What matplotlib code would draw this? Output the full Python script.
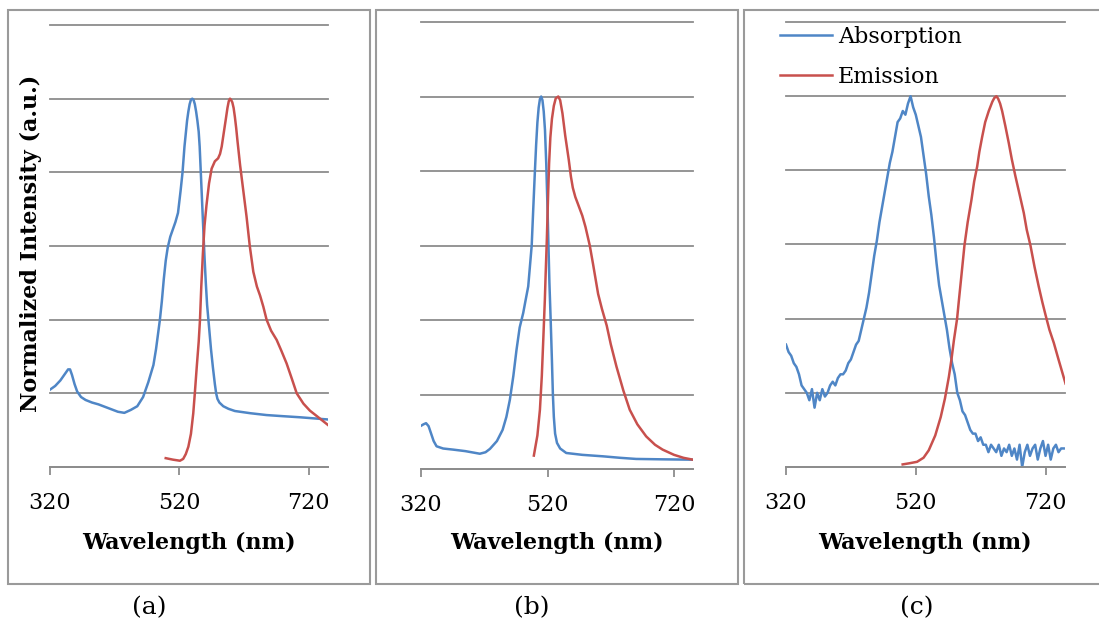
import numpy as np
import matplotlib
matplotlib.use("Agg")
import matplotlib.pyplot as plt
from matplotlib.patches import Rectangle

# ---- datos (longitud de onda en nm, intensidad normalizada) ----
a_abs_wl = [320, 328, 336, 344, 348, 351, 354, 358, 362, 368, 375, 385, 395, 410, 425,
            435, 445, 455, 464, 472, 480, 484, 487, 490, 493, 496, 499, 502, 506, 510,
            514, 518, 522, 525, 528, 530, 532, 534, 536, 538, 540, 542, 544, 546, 548,
            550, 551.5, 553, 555, 557, 559, 561, 563, 565, 567, 569, 572, 575, 577,
            579, 582, 588, 596, 606, 630, 655, 680, 706.7, 750]
a_abs = [0.21, 0.22, 0.235, 0.255, 0.265, 0.265, 0.25, 0.225, 0.205, 0.19, 0.182,
         0.175, 0.17, 0.16, 0.15, 0.147, 0.155, 0.165, 0.19, 0.23, 0.277, 0.32, 0.36,
         0.40, 0.45, 0.51, 0.56, 0.595, 0.625, 0.645, 0.665, 0.69, 0.75, 0.80, 0.87,
         0.905, 0.94, 0.965, 0.985, 0.997, 1.0, 0.997, 0.985, 0.965, 0.94, 0.91, 0.87,
         0.81, 0.73, 0.65, 0.57, 0.50, 0.44, 0.40, 0.36, 0.32, 0.27, 0.225, 0.2, 0.185,
         0.175, 0.165, 0.158, 0.152, 0.146, 0.141, 0.138, 0.135, 0.129]

a_em_wl = [499, 510, 521, 526, 530, 534, 538, 541.6, 544, 547, 550, 552, 554, 556.5,
           559, 562, 566, 570, 575, 580, 583, 585.6, 589, 592, 594.5, 596.5, 598.4, 600,
           602, 604, 606, 608, 610, 614, 619, 624, 629, 634.5, 640, 645, 650, 655, 662,
           670.6, 678, 686, 694, 701.6, 712, 722, 735, 750]
a_em = [0.024, 0.02, 0.017, 0.022, 0.035, 0.055, 0.09, 0.146, 0.20, 0.272, 0.34, 0.40,
        0.49, 0.58, 0.655, 0.71, 0.77, 0.81, 0.83, 0.838, 0.85, 0.87, 0.91, 0.945,
        0.975, 0.993, 1.0, 0.997, 0.99, 0.975, 0.95, 0.92, 0.885, 0.82, 0.75, 0.68,
        0.60, 0.53, 0.49, 0.465, 0.435, 0.40, 0.37, 0.345, 0.315, 0.281, 0.24, 0.20,
        0.172, 0.153, 0.135, 0.114]

b_abs_wl = [320, 324, 328, 332, 336, 340, 344.6, 355, 371, 390, 413, 422, 429, 440, 449,
            455, 460.5, 466, 471, 476, 481.6, 485, 489.5, 492, 495, 497.5, 500, 502,
            504, 506, 508, 510, 512, 514, 516, 518, 520, 521.5, 523, 525, 527, 528.5,
            530, 532, 535, 540, 549.6, 575, 608, 635, 660, 700, 750]
b_abs = [0.116, 0.12, 0.123, 0.115, 0.095, 0.075, 0.061, 0.055, 0.052, 0.048, 0.041,
         0.045, 0.054, 0.075, 0.105, 0.14, 0.186, 0.25, 0.32, 0.38, 0.419, 0.45, 0.49,
         0.54, 0.60, 0.70, 0.797, 0.87, 0.93, 0.97, 0.993, 1.0, 0.99, 0.96, 0.91, 0.82,
         0.70, 0.60, 0.50, 0.40, 0.29, 0.20, 0.14, 0.095, 0.07, 0.055, 0.043, 0.038,
         0.034, 0.030, 0.027, 0.026, 0.025]

b_em_wl = [498.4, 504, 508, 511, 513.3, 515.8, 517, 519, 521, 522.5, 524.5, 527, 530,
           533, 537, 540, 543.6, 548, 553.6, 557, 560, 564, 568, 575, 580, 586.8, 592,
           597, 600, 606, 613.6, 620, 629, 640, 650, 662, 676, 690, 702, 720, 735, 750]
b_em = [0.036, 0.09, 0.159, 0.25, 0.347, 0.455, 0.52, 0.62, 0.74, 0.82, 0.89, 0.94,
        0.975, 0.995, 1.0, 0.99, 0.955, 0.895, 0.83, 0.785, 0.755, 0.73, 0.712, 0.68,
        0.65, 0.60, 0.55, 0.50, 0.47, 0.43, 0.385, 0.335, 0.275, 0.21, 0.159, 0.12,
        0.0875, 0.065, 0.052, 0.038, 0.03, 0.025]

c_abs_wl = [320, 324, 328, 332, 336, 340, 344, 348, 352, 356, 360, 364, 368, 372, 376,
            380, 384, 388, 392, 396, 400, 404, 408, 412, 416, 420, 424, 428, 432, 436,
            440, 444, 448, 452, 456, 460, 464, 468, 472, 476, 480, 484, 488, 492, 496,
            500, 504, 508, 512, 516, 520, 524, 528, 532, 536, 540, 544, 548, 552, 556,
            560, 564, 568, 572, 576, 580, 584, 588, 592, 596, 600, 604, 608, 612, 616,
            620, 624, 628, 632, 636, 640, 644, 648, 652, 656, 660, 664, 668, 672, 676,
            680, 684, 688, 692, 696, 700, 704, 708, 712, 716, 720, 724, 728, 732, 736,
            740, 744, 748]
c_abs = [0.33, 0.31, 0.30, 0.28, 0.27, 0.25, 0.22, 0.21, 0.20, 0.18, 0.21, 0.16, 0.20,
         0.18, 0.21, 0.19, 0.20, 0.22, 0.23, 0.22, 0.24, 0.25, 0.25, 0.26, 0.28, 0.29,
         0.31, 0.33, 0.34, 0.37, 0.40, 0.43, 0.47, 0.52, 0.57, 0.61, 0.66, 0.70, 0.74,
         0.78, 0.82, 0.85, 0.89, 0.93, 0.94, 0.96, 0.95, 0.98, 1.00, 0.97, 0.95, 0.92,
         0.89, 0.84, 0.79, 0.73, 0.68, 0.62, 0.55, 0.49, 0.45, 0.41, 0.37, 0.32, 0.28,
         0.25, 0.20, 0.18, 0.15, 0.14, 0.12, 0.10, 0.09, 0.09, 0.07, 0.08, 0.06, 0.06,
         0.04, 0.06, 0.05, 0.04, 0.06, 0.03, 0.05, 0.04, 0.06, 0.03, 0.05, 0.02, 0.06,
         0.00, 0.04, 0.06, 0.03, 0.05, 0.06, 0.02, 0.05, 0.07, 0.03, 0.06, 0.02, 0.05,
         0.06, 0.04, 0.05, 0.05]

c_em_wl = [499.8, 510, 522, 532, 540, 550, 558.5, 565, 571, 575, 578.8, 583.7, 586.5,
           590, 595, 600, 605.8, 610, 614.6, 618, 622.3, 627, 632.5, 638, 641, 644.3,
           647, 650, 653.1, 658, 663.3, 668, 673.6, 680, 686.5, 691, 696.8, 703, 709.6,
           715, 720, 726, 732.7, 740, 745, 750.8]
c_em = [0.007, 0.01, 0.014, 0.025, 0.045, 0.085, 0.135, 0.185, 0.243, 0.29, 0.342, 0.40,
        0.45, 0.51, 0.597, 0.66, 0.72, 0.77, 0.81, 0.85, 0.89, 0.93, 0.96, 0.985, 0.995,
        1.0, 0.993, 0.98, 0.96, 0.92, 0.874, 0.83, 0.784, 0.735, 0.685, 0.64, 0.597,
        0.54, 0.486, 0.445, 0.41, 0.37, 0.335, 0.29, 0.26, 0.225]

panels = [(a_abs_wl, a_abs, a_em_wl, a_em),
          (b_abs_wl, b_abs, b_em_wl, b_em),
          (c_abs_wl, c_abs, c_em_wl, c_em)]
letras = ['(a)', '(b)', '(c)']
xticks = [320, 520, 720]

BLUE = '#4f86c6'
RED = '#c8504d'
GRIS = '#8c8c8c'

W, H = 1099, 624
fig = plt.figure(figsize=(W / 100, H / 100), dpi=100)


def px(x0, y0, x1, y1):
    return [x0 / W, 1 - y1 / H, (x1 - x0) / W, (y1 - y0) / H]


# cajas de cada panel
cajas = [(8, 10, 370, 584), (376, 10, 738, 584), (744, 10, 1106, 584)]
for (x0, y0, x1, y1) in cajas:
    fig.patches.append(Rectangle((x0 / W, 1 - y1 / H), (x1 - x0) / W, (y1 - y0) / H,
                                 transform=fig.transFigure, fill=False,
                                 edgecolor='#9a9a9a', lw=1.5))

ejes = [(50, 25, 328, 467), (421, 22, 693, 469), (786, 22, 1065, 467)]
xlab_x = [189, 557, 925]
letra_x = [149, 532, 917]

for i, (r, (wa, ya, we, ye)) in enumerate(zip(ejes, panels)):
    ax = fig.add_axes(px(*r))
    ax.plot(wa, ya, color=BLUE, lw=1.8, label='Absorption')
    ax.plot(we, ye, color=RED, lw=1.8, label='Emission')
    ax.set_xlim(320, 750)
    ax.set_ylim(0, 1.2)
    ax.set_yticks(np.arange(0, 1.21, 0.2))
    ax.yaxis.grid(True, color=GRIS, lw=1.3)
    ax.set_axisbelow(True)
    ax.tick_params(axis='y', left=False, labelleft=False)
    ax.set_xticks(xticks)
    ax.tick_params(axis='x', direction='out', length=6, width=1.3, color=GRIS,
                   pad=12, labelsize=16)
    for lab in ax.get_xticklabels():
        lab.set_family('DejaVu Serif')
    for s in ['top', 'right', 'left']:
        ax.spines[s].set_visible(False)
    ax.spines['bottom'].set_color(GRIS)
    ax.spines['bottom'].set_linewidth(1.3)
    for line in ax.get_ygridlines():
        line.set_clip_on(False)

    fig.text(xlab_x[i] / W, 1 - 543 / H, 'Wavelength (nm)', ha='center', va='center',
             family='DejaVu Serif', fontweight='bold', fontsize=16)
    fig.text(letra_x[i] / W, 1 - 608 / H, letras[i], ha='center', va='center',
             family='DejaVu Serif', fontsize=18)

    if i == 2:
        ax.legend(loc='upper left', bbox_to_anchor=(780 / W, 1 - 26 / H),
                  bbox_transform=fig.transFigure, frameon=False, borderpad=0,
                  borderaxespad=0, handlelength=2.35, handletextpad=0.25,
                  labelspacing=0.82, prop={'family': 'DejaVu Serif', 'size': 16})

fig.text(31 / W, 1 - 243 / H, 'Normalized Intensity (a.u.)', rotation=90,
         ha='center', va='center', family='DejaVu Serif', fontweight='bold',
         fontsize=16)

fig.savefig('out.png', dpi=100)
